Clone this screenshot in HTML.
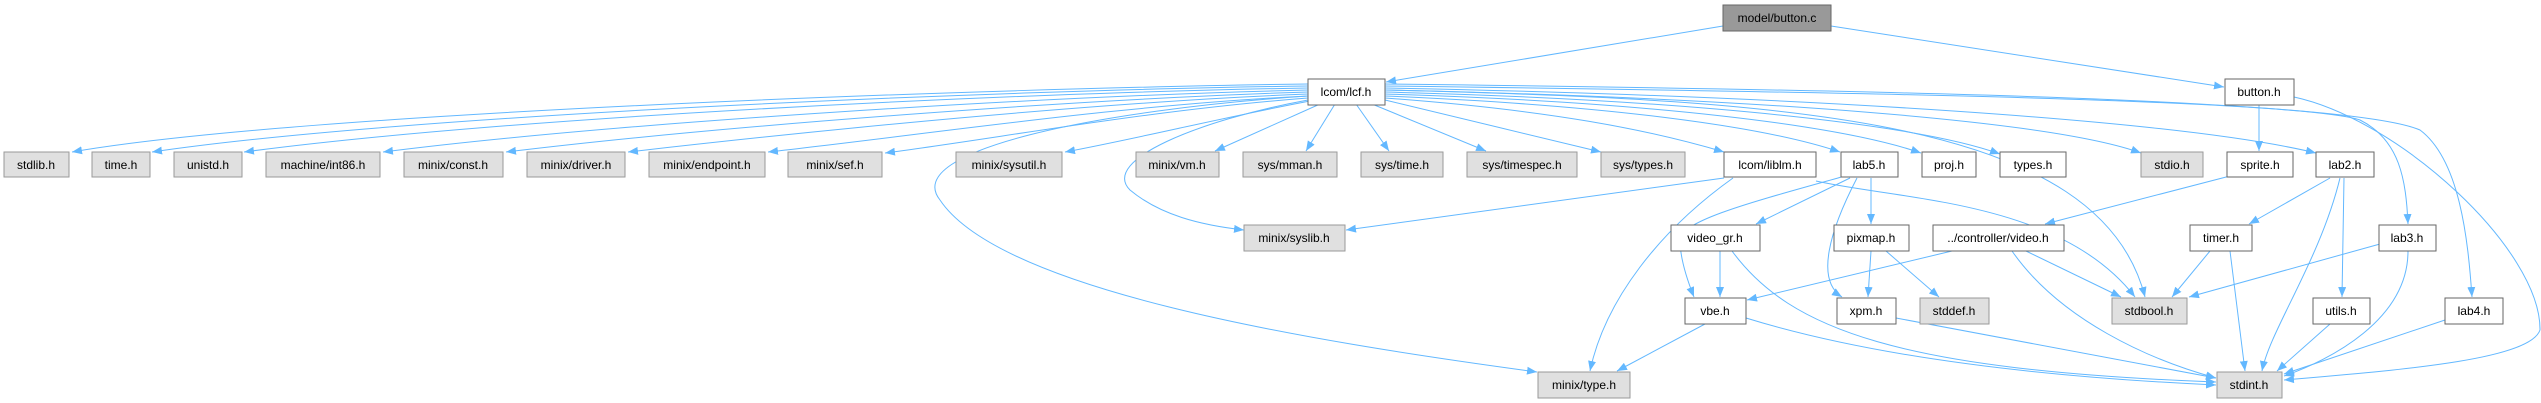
<!DOCTYPE html>
<html><head><meta charset="utf-8"><style>
html,body{margin:0;padding:0;background:#fff;}
svg{display:block;}
text{font-family:"Liberation Sans",Arial,sans-serif;font-size:12px;fill:#000;}
.e{fill:none;stroke:#63b8ff;stroke-width:1;}
.w{fill:#fff;stroke:#666;}
.g{fill:#e0e0e0;stroke:#999;}
.r{fill:#999;stroke:#666;}
</style></head><body>
<svg width="2541" height="403" viewBox="0 0 2541 403" xmlns="http://www.w3.org/2000/svg">
<defs><marker id="a" markerWidth="10" markerHeight="8" refX="10" refY="4" orient="auto" markerUnits="userSpaceOnUse"><path d="M0,0 L10,4 L0,8 z" fill="#63b8ff"/></marker></defs>
<g marker-end="url(#a)">
<path class="e" d="M1723,26 L1386,82"/>
<path class="e" d="M1831,26 L2224,87"/>
<path class="e" d="M2259,105 L2259,151"/>
<path class="e" d="M2294,97 C2400,120 2541,250 2540,330 C2530,360 2400,370 2284,380"/>
<path class="e" d="M2230,176 L2045,224"/>
<path class="e" d="M2330,178 L2249,224"/>
<path class="e" d="M2340,178 C2320,260 2270,330 2262,371"/>
<path class="e" d="M2344,178 L2342,297"/>
<path class="e" d="M2210,251 L2172,297"/>
<path class="e" d="M2230,251 L2245,371"/>
<path class="e" d="M2380,244 L2189,297"/>
<path class="e" d="M2408,251 C2408,320 2330,360 2284,376"/>
<path class="e" d="M2445,320 L2284,374"/>
<path class="e" d="M2330,324 L2277,371"/>
<path class="e" d="M1952,251 L1747,300"/>
<path class="e" d="M2026,251 L2121,297"/>
<path class="e" d="M2012,251 C2060,320 2150,360 2216,378"/>
<path class="e" d="M1724,178 L1346,230"/>
<path class="e" d="M1733,178 C1660,230 1605,300 1590,371"/>
<path class="e" d="M1816,181 C1900,200 2060,200 2135,297"/>
<path class="e" d="M1850,178 L1756,224"/>
<path class="e" d="M1845,176 C1760,200 1680,220 1680,240 C1680,260 1688,282 1694,297"/>
<path class="e" d="M1871,178 L1871,224"/>
<path class="e" d="M1857,178 C1830,230 1815,280 1842,297"/>
<path class="e" d="M1720,251 L1720,297"/>
<path class="e" d="M1732,251 C1790,330 1900,370 2216,382"/>
<path class="e" d="M1871,251 L1868,297"/>
<path class="e" d="M1886,251 L1939,297"/>
<path class="e" d="M1896,318 L2216,378"/>
<path class="e" d="M1746,318 C1850,350 2000,375 2216,385"/>
<path class="e" d="M1705,324 L1617,371"/>
<!-- lcf.h left -->
<path class="e" d="M1308,84 C1000,88 300,112 72,152"/>
<path class="e" d="M1308,86 C1000,90 400,115 152,152"/>
<path class="e" d="M1308,88 C1000,93 500,118 244,152"/>
<path class="e" d="M1308,90 C1050,96 620,122 383,152"/>
<path class="e" d="M1308,92 C1080,99 720,126 506,152"/>
<path class="e" d="M1308,94 C1100,102 820,130 628,152"/>
<path class="e" d="M1308,96 C1120,105 930,134 768,152"/>
<path class="e" d="M1308,98 C1150,110 1000,138 885,153"/>
<path class="e" d="M1310,101 C1220,118 1140,138 1065,152"/>
<path class="e" d="M1320,104 L1215,151"/>
<path class="e" d="M1335,104 L1306,151"/>
<path class="e" d="M1356,104 L1389,151"/>
<path class="e" d="M1372,104 L1486,151"/>
<path class="e" d="M1385,100 L1601,152"/>
<path class="e" d="M1308,100 C1200,120 1100,160 1130,190 C1160,215 1200,225 1244,230"/>
<path class="e" d="M1308,96 C1100,110 900,150 940,200 C1000,290 1300,340 1537,372"/>
<!-- lcf.h right -->
<path class="e" d="M1385,98 C1550,110 1650,130 1724,152"/>
<path class="e" d="M1385,96 C1600,105 1760,125 1840,152"/>
<path class="e" d="M1385,94 C1650,102 1840,125 1921,153"/>
<path class="e" d="M1385,92 C1700,100 1920,125 2000,154"/>
<path class="e" d="M1385,90 C1750,98 2050,120 2141,153"/>
<path class="e" d="M1385,88 C1800,96 2180,120 2316,153"/>
<path class="e" d="M1385,86 C1850,92 2300,100 2360,120 C2400,140 2406,180 2408,224"/>
<path class="e" d="M1385,84 C1900,90 2350,100 2420,130 C2460,160 2468,240 2472,297"/>
<path class="e" d="M1385,90 C1800,100 2100,120 2145,297"/>
</g>
<!-- nodes -->
<g>
<rect class="r" x="1723" y="5" width="108" height="26"/><text x="1777" y="22" text-anchor="middle">model/button.c</text>
<rect class="w" x="1308" y="79" width="77" height="26"/><text x="1346" y="96" text-anchor="middle">lcom/lcf.h</text>
<rect class="w" x="2225" y="79" width="69" height="26"/><text x="2259" y="96" text-anchor="middle">button.h</text>

<rect class="g" x="4" y="152" width="65" height="25"/><text x="36" y="169" text-anchor="middle">stdlib.h</text>
<rect class="g" x="92" y="152" width="58" height="25"/><text x="121" y="169" text-anchor="middle">time.h</text>
<rect class="g" x="174" y="152" width="68" height="25"/><text x="208" y="169" text-anchor="middle">unistd.h</text>
<rect class="g" x="266" y="152" width="114" height="25"/><text x="323" y="169" text-anchor="middle">machine/int86.h</text>
<rect class="g" x="404" y="152" width="99" height="25"/><text x="453" y="169" text-anchor="middle">minix/const.h</text>
<rect class="g" x="527" y="152" width="98" height="25"/><text x="576" y="169" text-anchor="middle">minix/driver.h</text>
<rect class="g" x="649" y="152" width="116" height="25"/><text x="707" y="169" text-anchor="middle">minix/endpoint.h</text>
<rect class="g" x="788" y="152" width="94" height="25"/><text x="835" y="169" text-anchor="middle">minix/sef.h</text>
<rect class="g" x="956" y="152" width="106" height="25"/><text x="1009" y="169" text-anchor="middle">minix/sysutil.h</text>
<rect class="g" x="1136" y="152" width="83" height="25"/><text x="1177" y="169" text-anchor="middle">minix/vm.h</text>
<rect class="g" x="1243" y="152" width="94" height="25"/><text x="1290" y="169" text-anchor="middle">sys/mman.h</text>
<rect class="g" x="1361" y="152" width="82" height="25"/><text x="1402" y="169" text-anchor="middle">sys/time.h</text>
<rect class="g" x="1467" y="152" width="110" height="25"/><text x="1522" y="169" text-anchor="middle">sys/timespec.h</text>
<rect class="g" x="1601" y="152" width="84" height="25"/><text x="1643" y="169" text-anchor="middle">sys/types.h</text>
<rect class="w" x="1724" y="152" width="92" height="25"/><text x="1770" y="169" text-anchor="middle">lcom/liblm.h</text>
<rect class="w" x="1841" y="152" width="57" height="25"/><text x="1869" y="169" text-anchor="middle">lab5.h</text>
<rect class="w" x="1922" y="152" width="54" height="25"/><text x="1949" y="169" text-anchor="middle">proj.h</text>
<rect class="w" x="2000" y="152" width="66" height="25"/><text x="2033" y="169" text-anchor="middle">types.h</text>
<rect class="g" x="2141" y="152" width="62" height="25"/><text x="2172" y="169" text-anchor="middle">stdio.h</text>
<rect class="w" x="2227" y="152" width="66" height="25"/><text x="2260" y="169" text-anchor="middle">sprite.h</text>
<rect class="w" x="2316" y="152" width="58" height="25"/><text x="2345" y="169" text-anchor="middle">lab2.h</text>

<rect class="g" x="1244" y="225" width="101" height="26"/><text x="1294" y="242" text-anchor="middle">minix/syslib.h</text>
<rect class="w" x="1671" y="225" width="89" height="26"/><text x="1715" y="242" text-anchor="middle">video_gr.h</text>
<rect class="w" x="1834" y="225" width="75" height="26"/><text x="1871" y="242" text-anchor="middle">pixmap.h</text>
<rect class="w" x="1933" y="225" width="131" height="26"/><text x="1998" y="242" text-anchor="middle">../controller/video.h</text>
<rect class="w" x="2190" y="225" width="62" height="26"/><text x="2221" y="242" text-anchor="middle">timer.h</text>
<rect class="w" x="2379" y="225" width="57" height="26"/><text x="2407" y="242" text-anchor="middle">lab3.h</text>

<rect class="w" x="1685" y="298" width="61" height="26"/><text x="1715" y="315" text-anchor="middle">vbe.h</text>
<rect class="w" x="1837" y="298" width="59" height="26"/><text x="1866" y="315" text-anchor="middle">xpm.h</text>
<rect class="g" x="1920" y="298" width="69" height="26"/><text x="1954" y="315" text-anchor="middle">stddef.h</text>
<rect class="g" x="2112" y="298" width="75" height="26"/><text x="2149" y="315" text-anchor="middle">stdbool.h</text>
<rect class="w" x="2313" y="298" width="57" height="26"/><text x="2341" y="315" text-anchor="middle">utils.h</text>
<rect class="w" x="2445" y="298" width="58" height="26"/><text x="2474" y="315" text-anchor="middle">lab4.h</text>

<rect class="g" x="1538" y="372" width="92" height="26"/><text x="1584" y="389" text-anchor="middle">minix/type.h</text>
<rect class="g" x="2217" y="372" width="65" height="26"/><text x="2249" y="389" text-anchor="middle">stdint.h</text>
</g>
</svg>
</body></html>
